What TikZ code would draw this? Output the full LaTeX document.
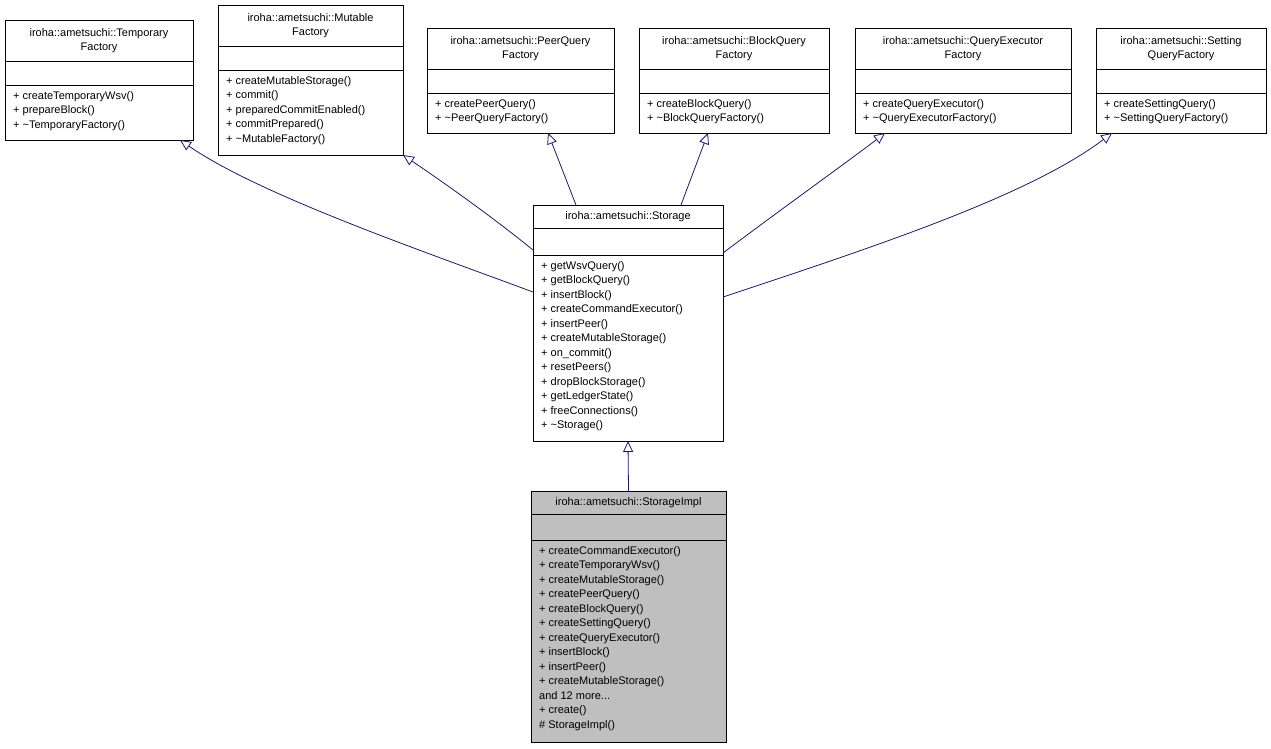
\documentclass[tikz,border=0pt]{standalone}
\usepackage{fontspec}
\setmainfont{Liberation Sans}
\usetikzlibrary{arrows.meta}
\definecolor{edgec}{HTML}{191970}
\begin{document}
\begin{tikzpicture}[x=1pt,y=-1pt,
  box/.style={draw=black,line width=0.8pt,anchor=north west,inner sep=0,outer sep=0},
  txt/.style={font=\fontsize{11}{14.5}\selectfont,inner sep=0,align=left,anchor=north west},
  ttl/.style={font=\fontsize{11}{14.5}\selectfont,inner sep=0,align=center},
  edge/.style={draw=edgec,line width=0.8pt,-{Triangle[open,length=11pt,width=10pt]}}]
\useasboundingbox (0,0) rectangle (1271,749);
\newcommand\umlclass[9]{%
  \pgfmathsetmacro\hh{#5+#6+#7}%
  \node[box,minimum width=#4pt,minimum height=\hh pt] (#1) at (#2,#3) {};
  \draw[line width=0.8pt] (#2,#3+#5) -- ++(#4,0);
  \draw[line width=0.8pt] (#2,#3+#5+#6) -- ++(#4,0);
  \node[ttl] (#1t) at (#2+#4/2,#3+#5/2) {#8};
  \node[txt] (#1m) at (#2+8,#3+#5+#6+6) {#9};
}
\umlclass{tf}{5}{20}{188}{41}{24}{55}{iroha::ametsuchi::Temporary\\Factory}{+ createTemporaryWsv()\\+ prepareBlock()\\+ \textasciitilde TemporaryFactory()}
\umlclass{mf}{218}{5}{185}{41}{24}{85}{iroha::ametsuchi::Mutable\\Factory}{+ createMutableStorage()\\+ commit()\\+ preparedCommitEnabled()\\+ commitPrepared()\\+ \textasciitilde MutableFactory()}
\umlclass{pf}{427}{28}{187}{41}{24}{40}{iroha::ametsuchi::PeerQuery\\Factory}{+ createPeerQuery()\\+ \textasciitilde PeerQueryFactory()}
\umlclass{bf}{639}{28}{190}{41}{24}{40}{iroha::ametsuchi::BlockQuery\\Factory}{+ createBlockQuery()\\+ \textasciitilde BlockQueryFactory()}
\umlclass{qf}{855}{28}{216}{41}{24}{40}{iroha::ametsuchi::QueryExecutor\\Factory}{+ createQueryExecutor()\\+ \textasciitilde QueryExecutorFactory()}
\umlclass{sf}{1096}{28}{170}{41}{24}{40}{iroha::ametsuchi::Setting\\QueryFactory}{+ createSettingQuery()\\+ \textasciitilde SettingQueryFactory()}
\umlclass{st}{533}{205}{190}{23}{27}{186}{iroha::ametsuchi::Storage}{+ getWsvQuery()\\+ getBlockQuery()\\+ insertBlock()\\+ createCommandExecutor()\\+ insertPeer()\\+ createMutableStorage()\\+ on\_commit()\\+ resetPeers()\\+ dropBlockStorage()\\+ getLedgerState()\\+ freeConnections()\\+ \textasciitilde Storage()}
\fill[gray!50] (531,491) rectangle (726,742);
\umlclass{si}{531}{491}{195}{23}{26}{202}{iroha::ametsuchi::StorageImpl}{+ createCommandExecutor()\\+ createTemporaryWsv()\\+ createMutableStorage()\\+ createPeerQuery()\\+ createBlockQuery()\\+ createSettingQuery()\\+ createQueryExecutor()\\+ insertBlock()\\+ insertPeer()\\+ createMutableStorage()\\and 12 more...\\+ create()\\\# StorageImpl()}
\coordinate (e1) at (533,292); \coordinate (h1) at (180,140);
\coordinate (e2) at (533,250); \coordinate (h2) at (403,155);
\coordinate (e3) at (576,205); \coordinate (h3) at (548,133);
\coordinate (e4) at (681,205); \coordinate (h4) at (708,133);
\coordinate (e5) at (723,253); \coordinate (h5) at (885,133);
\coordinate (e6) at (723,297); \coordinate (h6) at (1112,133);
\draw[edge] (e1) .. controls (420,250) and (260,195) .. (h1);
\draw[edge] (e2) .. controls (490,215) and (440,180) .. (h2);
\draw[edge] (e3) -- (h3);
\draw[edge] (e4) -- (h4);
\draw[edge] (e5) .. controls (780,210) and (850,160) .. (h5);
\draw[edge] (e6) .. controls (880,245) and (1030,195) .. (h6);
\draw[edge] (si.north) -- (st.south);
\end{tikzpicture}
\end{document}
